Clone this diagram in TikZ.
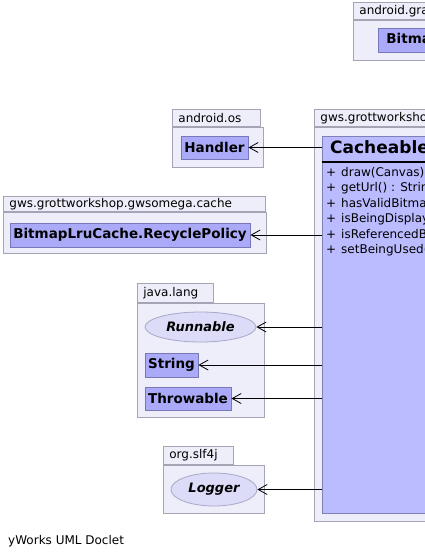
\documentclass[tikz,border=0pt]{standalone}
\usepackage{fontspec}
\setmainfont{DejaVu Sans}
\usetikzlibrary{arrows.meta,shapes.geometric}

\definecolor{pkgfill}{HTML}{EEEEFA}
\definecolor{pkgline}{HTML}{A4A4B4}
\definecolor{clsfill}{HTML}{BBBBFF}
\definecolor{clsline}{HTML}{8080B8}
\definecolor{boxfill}{HTML}{AAAAF8}
\definecolor{boxline}{HTML}{7878B8}
\definecolor{ifcfill}{HTML}{DCDCF8}
\definecolor{ifcline}{HTML}{A8A8C8}

\begin{document}
\begin{tikzpicture}[x=1pt,y=-1pt,
    font=\fontsize{12}{14}\selectfont,
    pkgbody/.style={draw=pkgline, fill=pkgfill, line width=0.8pt,
      anchor=north west, inner sep=0},
    pkgtab/.style={draw=pkgline, fill=pkgfill, line width=0.8pt,
      anchor=south west, inner xsep=6pt, inner ysep=0,
      minimum height=17pt, align=left},
    cls/.style={draw=boxline, fill=boxfill, line width=0.8pt,
      font=\fontsize{13.5}{15}\selectfont\bfseries, inner sep=0},
    ifc/.style={ellipse, draw=ifcline, fill=ifcfill, line width=0.8pt,
      font=\fontsize{13}{15}\selectfont\bfseries\itshape, inner sep=0},
    member/.style={anchor=west, inner sep=0},
    dep/.style={-{Straight Barb[length=9pt,width=10pt]}, line width=0.8pt}]
  \useasboundingbox (0,0) rectangle (425,559);
  \clip (0,0) rectangle (425,559);

  % packages
  \node[pkgbody, minimum width=120, minimum height=40] (gfxbody) at (353,20) {};
  \node[pkgtab, text width=150] (gfxtab) at (gfxbody.north west) {android.graphics.drawable};
  \node[pkgbody, minimum width=91, minimum height=40] (osbody) at (172,127) {};
  \node[pkgtab, text width=76] (ostab) at (osbody.north west) {android.os};
  \node[pkgbody, minimum width=200, minimum height=394] (cachebody) at (314,127) {};
  \node[pkgtab, text width=250] (cachetab) at (cachebody.north west) {gws.grottworkshop.gwsomega.drawable};
  \node[pkgbody, minimum width=263, minimum height=41] (lrubody) at (3,212) {};
  \node[pkgtab, text width=250, minimum height=15pt] (lrutab) at (lrubody.north west) {gws.grottworkshop.gwsomega.cache};
  \node[pkgbody, minimum width=127, minimum height=114] (langbody) at (137,303) {};
  \node[pkgtab, text width=64, minimum height=19pt] (langtab) at (langbody.north west) {java.lang};
  \node[pkgbody, minimum width=101, minimum height=48] (slfbody) at (163,465) {};
  \node[pkgtab, text width=58, minimum height=18pt] (slftab) at (slfbody.north west) {org.slf4j};

  % classes
  \node[cls, anchor=west, minimum height=24, inner xsep=8pt] (bitmap) at (378,40) {BitmapDrawable};
  \node[cls, minimum width=67, minimum height=23] (handler) at (214.5,147.5) {Handler};
  \node[cls, minimum width=240, minimum height=24] (policy) at (130,235) {BitmapLruCache.RecyclePolicy};
  \node[ifc, minimum width=111, minimum height=30] (runnable) at (200.5,327) {Runnable};
  \node[cls, minimum width=53, minimum height=24] (string) at (171.5,365) {String};
  \node[cls, minimum width=86, minimum height=23] (throwable) at (188,398.5) {Throwable};
  \node[ifc, minimum width=86, minimum height=33] (logger) at (214,489.5) {Logger};

  % CacheableBitmapDrawable
  \node[draw=clsline, fill=clsfill, line width=0.8pt, anchor=north west,
    minimum width=200, minimum height=377] (cb) at (322,136) {};
  \node[member, font=\fontsize{17}{19}\selectfont\bfseries] (cbname) at (330,149) {CacheableBitmapDrawable};
  \draw[line width=2pt] (322,162) -- (425,162);
  \node[member] (m1) at (326,173) {\makebox[15pt][l]{+}draw(Canvas) : void};
  \node[member] (m2) at (326,188.5) {\makebox[15pt][l]{+}getUrl() : String};
  \node[member] (m3) at (326,204) {\makebox[15pt][l]{+}hasValidBitmap() : boolean};
  \node[member] (m4) at (326,219.5) {\makebox[15pt][l]{+}isBeingDisplayed() : boolean};
  \node[member] (m5) at (326,235) {\makebox[15pt][l]{+}isReferencedByCache() : boolean};
  \node[member] (m6) at (326,250.5) {\makebox[15pt][l]{+}setBeingUsed(boolean) : void};

  % dependencies
  \draw[dep] (cb.west |- handler) -- (handler);
  \draw[dep] (cb.west |- policy) -- (policy);
  \draw[dep] (cb.west |- runnable) -- (runnable);
  \draw[dep] (cb.west |- string) -- (string);
  \draw[dep] (cb.west |- throwable) -- (throwable);
  \draw[dep] (cb.west |- logger) -- (logger);

  \node[member] (doclet) at (8,541) {yWorks UML Doclet};
\end{tikzpicture}
\end{document}
